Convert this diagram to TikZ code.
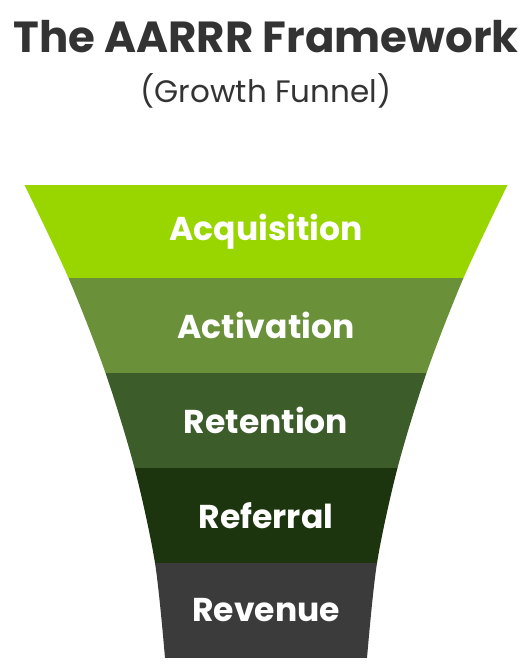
\documentclass[tikz,border=0pt]{standalone}
\usepackage{fontspec}
\setmainfont{Poppins}
\usepackage{tikz}
\usetikzlibrary{positioning,calc}
\definecolor{TitleGray}{RGB}{51,51,51}
\definecolor{StageLime}{RGB}{153,214,0}
\definecolor{StageMoss}{RGB}{106,145,57}
\definecolor{StageForest}{RGB}{60,92,42}
\definecolor{StageDeep}{RGB}{29,53,14}
\definecolor{StageCoal}{RGB}{58,59,58}

\begin{document}
\begin{tikzpicture}[x=1pt,y=1pt,
  stage/.style={text=white,font=\bfseries\fontsize{33}{33}\selectfont}]
  \useasboundingbox (0,0) rectangle (525,666);
  \node[TitleGray,anchor=base,font=\bfseries\fontsize{43.5}{43.5}\selectfont] (title) at (266,613) {The AARRR Framework};
  \node[TitleGray,anchor=base,font=\fontsize{31}{31}\selectfont] (subtitle) at (266,563) {(Growth Funnel)};
  \begin{scope}
    \clip plot[smooth] coordinates {(24.5,481) (68.5,388) (105.5,293) (134.5,198) (155,103) (165,8)}
      -- plot[smooth] coordinates {(367,8) (377,103) (397.5,198) (426.5,293) (463.5,388) (507.5,481)} -- cycle;
    \fill[StageLime] (0,388) rectangle (525,481);
    \fill[StageMoss] (0,293) rectangle (525,388);
    \fill[StageForest] (0,198) rectangle (525,293);
    \fill[StageDeep] (0,103) rectangle (525,198);
    \fill[StageCoal] (0,8) rectangle (525,103);
  \end{scope}
  \node[stage] (acq) at (266,434.5) {Acquisition};
  \node[stage] (act) at (266,340.5) {Activation};
  \node[stage] (ret) at (266,245.5) {Retention};
  \node[stage] (ref) at (266,150.5) {Referral};
  \node[stage] (rev) at (266,55.5) {Revenue};
\end{tikzpicture}
\end{document}
